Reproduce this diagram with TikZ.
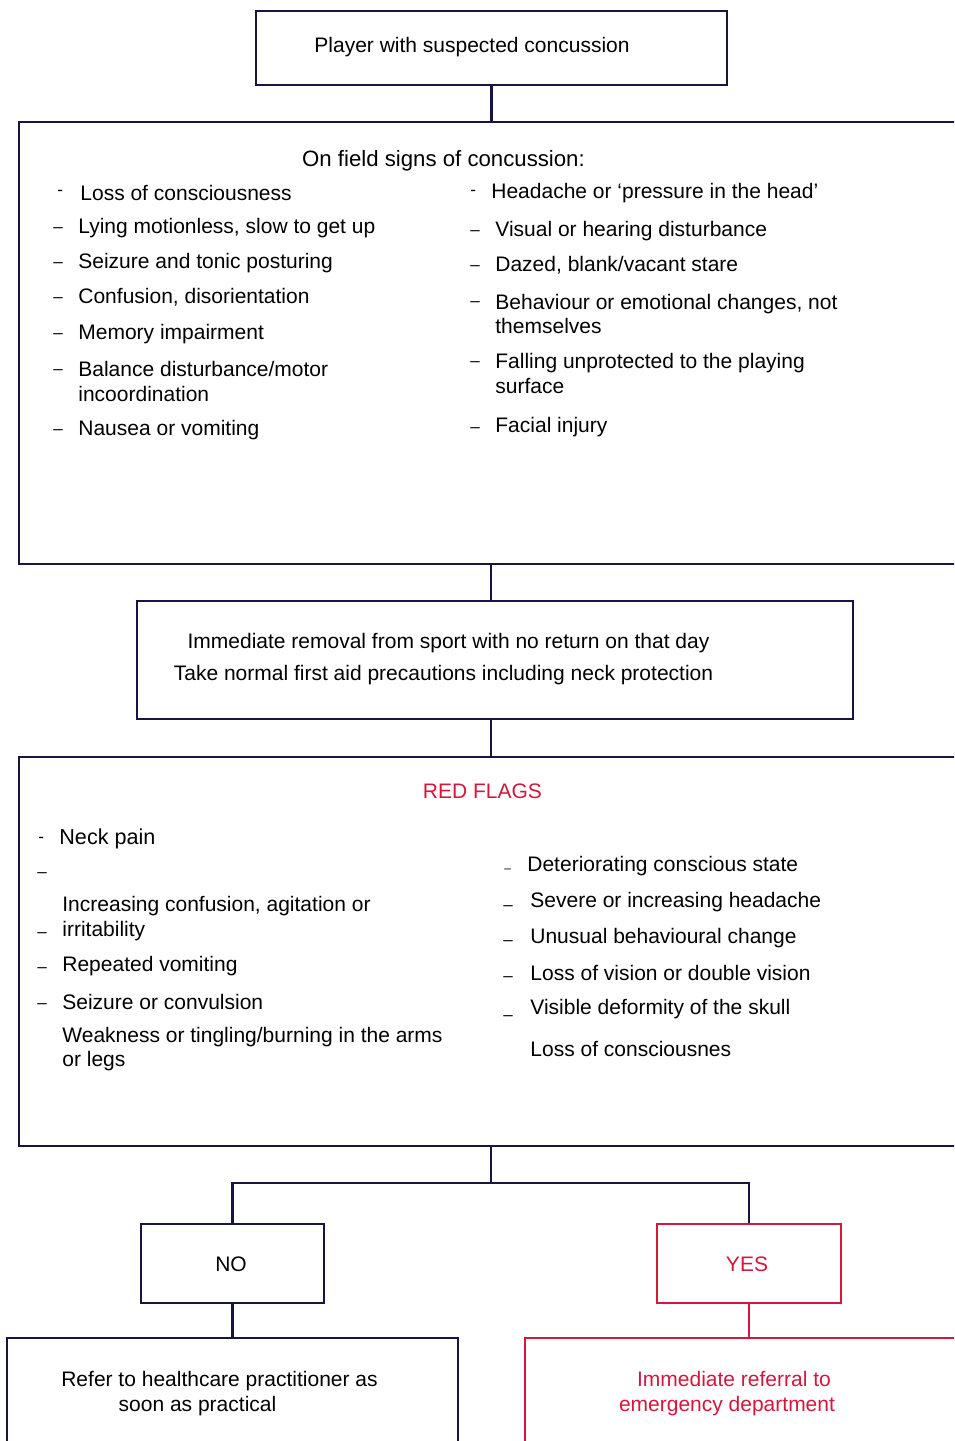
\documentclass[tikz,border=0pt]{standalone}
\usepackage{fontspec}
\setmainfont{Liberation Sans}
\definecolor{navy}{HTML}{16163F}
\definecolor{flagred}{HTML}{D3173D}
\begin{document}
\begin{tikzpicture}[x=0.5pt,y=-0.5pt,
  box/.style={draw=navy, line width=1.2pt, rectangle, inner sep=0pt},
  redbox/.style={draw=flagred, line width=1.2pt, rectangle, inner sep=0pt},
  conn/.style={draw=navy, line width=1.2pt},
  redconn/.style={draw=flagred, line width=1.2pt},
  txt/.style={inner sep=0pt, yshift=-1.3pt, font=\fontsize{10.5}{12.2}\selectfont, text=black},
  item/.style={txt, anchor=west, align=left},
  dsh/.style={txt, anchor=west, font=\fontsize{8.5}{10}\selectfont}]
\path[use as bounding box] (0,0) rectangle (954,1441);
\clip (0,0) rectangle (954,1441);

% boxes
\node[box, minimum width=235.5pt, minimum height=37pt] (b1) at (491.5,48) {};
\node[box, minimum width=472pt, minimum height=221pt] (b2) at (491,343) {};
\node[box, minimum width=358pt, minimum height=59pt] (b3) at (495,660) {};
\node[box, minimum width=472pt, minimum height=194.5pt] (b4) at (491,951.5) {};
\node[box, minimum width=91.5pt, minimum height=39.5pt] (no) at (232.5,1263.5) {};
\node[redbox, minimum width=92pt, minimum height=39.5pt] (yes) at (749,1263.5) {};
\node[box, minimum width=225.5pt, minimum height=81pt] (refer) at (232.5,1419) {};
\node[redbox, minimum width=225pt, minimum height=81pt] (emerg) at (750,1419) {};

% connectors
\coordinate (split) at (491,1183);
\draw[conn] (b1.south) -- (b1.south |- b2.north);
\draw[conn] (b2.south) -- (b2.south |- b3.north);
\draw[conn] (b3.south -| b4.north) -- (b4.north);
\draw[conn] (b4.south) -- (split);
\draw[conn] (no.north) -- (no.north |- split) -- (yes.north |- split) -- (yes.north);
\draw[conn] (no.south) -- (refer.north);
\draw[redconn] (yes.south) -- (yes.south |- emerg.north);

% box 1
\node[txt] (t1) at (472,44) {Player with suspected concussion};

% box 2
\node[txt, font=\fontsize{11.1}{13}\selectfont] (t2) at (443.5,158) {On field signs of concussion:};
\node[dsh] (d1) at (57,190) {-};
\node[item] (l1) at (80,190) {Loss of consciousness};
\node[dsh] (d2) at (53,227) {–};
\node[item] (l2) at (78,225) {Lying motionless, slow to get up};
\node[dsh] (d3) at (53,262) {–};
\node[item] (l3) at (78,260) {Seizure and tonic posturing};
\node[dsh] (d4) at (53,297) {–};
\node[item] (l4) at (78,295) {Confusion, disorientation};
\node[dsh] (d5) at (53,333) {–};
\node[item] (l5) at (78,331) {Memory impairment};
\node[dsh] (d6) at (53,369) {–};
\node[item] (l6) at (78,379) {Balance disturbance/motor\\incoordination};
\node[dsh] (d7) at (53,429) {–};
\node[item] (l7) at (78,427) {Nausea or vomiting};

\node[dsh] (e1) at (470,190) {-};
\node[item] (r1) at (491,190) {Headache or ‘pressure in the head’};
\node[dsh] (e2) at (470,230) {–};
\node[item] (r2) at (495,228) {Visual or hearing disturbance};
\node[dsh] (e3) at (470,265) {–};
\node[item] (r3) at (495,263) {Dazed, blank/vacant stare};
\node[dsh] (e4) at (470,301) {–};
\node[item] (r4) at (495,311.5) {Behaviour or emotional changes, not\\themselves};
\node[dsh] (e5) at (470,361) {–};
\node[item] (r5) at (495,371) {Falling unprotected to the playing\\surface};
\node[dsh] (e6) at (470,427) {–};
\node[item] (r6) at (495,424) {Facial injury};

% box 3
\node[txt] (t3a) at (448.5,640) {Immediate removal from sport with no return on that day};
\node[txt] (t3b) at (443.5,672) {Take normal first aid precautions including neck protection};

% box 4
\node[txt, text=flagred] (rf) at (482.5,789) {RED FLAGS};
\node[dsh] (f0) at (38,837) {-};
\node[item, font=\fontsize{10.8}{12.2}\selectfont] (g0) at (59,836) {Neck pain};
\node[dsh] (f1) at (37,872) {–};
\node[dsh] (f2) at (37,932) {–};
\node[item] (g1) at (62,916) {Increasing confusion, agitation or\\irritability};
\node[dsh] (f3) at (37,967) {–};
\node[item] (g2) at (62,963) {Repeated vomiting};
\node[dsh] (f4) at (37,1003) {–};
\node[item] (g3) at (62,999) {Seizure or convulsion};
\node[item] (g4) at (62,1046.5) {Weakness or tingling/burning in the arms\\or legs};

\node[dsh, font=\fontsize{6}{7}\selectfont] (h1) at (504,868) {–};
\node[item] (k1) at (527,863) {Deteriorating conscious state};
\node[dsh] (h2) at (503,905) {–};
\node[item] (k2) at (530,899) {Severe or increasing headache};
\node[dsh] (h3) at (503,940) {–};
\node[item] (k3) at (530,935) {Unusual behavioural change};
\node[dsh] (h4) at (503,976) {–};
\node[item] (k4) at (530,970) {Loss of vision or double vision};
\node[dsh] (h5) at (503,1015) {–};
\node[item] (k5) at (530,1006) {Visible deformity of the skull};
\node[item] (k6) at (530,1046) {Loss of consciousnes};

% decision boxes
\node[txt] (tno) at (231,1262) {NO};
\node[txt, text=flagred] (tyes) at (747,1262) {YES};

% outcome boxes
\node[txt, align=center] (tref) at (219.5,1391) {Refer to healthcare practitioner as\\\hspace*{-22pt}soon as practical};
\node[txt, align=center, text=flagred] (tem) at (727,1391) {\hspace*{7pt}Immediate referral to\\emergency department};
\end{tikzpicture}
\end{document}
